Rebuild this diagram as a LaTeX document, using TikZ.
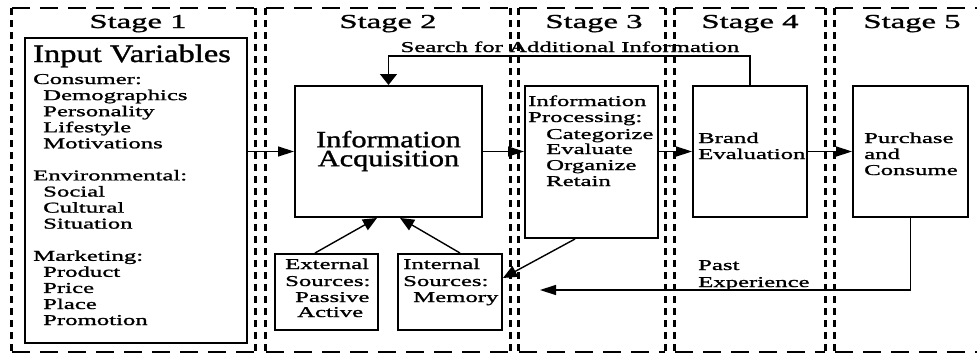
\documentclass[tikz,border=0pt]{standalone}
\usepackage{fontspec}
\setmainfont{Liberation Serif}
\newfontfamily\bodyf[FakeStretch=1.65,FakeBold=1.3]{Liberation Serif}
\newfontfamily\bigf[FakeStretch=1.3,FakeBold=1.3]{Liberation Serif}
\usetikzlibrary{arrows.meta}
\tikzset{
  box/.style={draw, line width=2pt, rectangle, inner sep=0pt},
  frame/.style={rectangle, draw=none, inner sep=0pt},
  hdash/.style={line width=2.2pt, dash pattern=on 18pt off 10pt},
  vdash/.style={line width=3pt, dash pattern=on 7pt off 5pt},
  conn/.style={line width=1.4pt},
  harr/.style={conn, -{Triangle[length=16pt,width=10pt]}},
  varr/.style={conn, -{Triangle[length=11pt,width=17pt]}},
  darr/.style={conn, -{Triangle[length=14pt,width=12pt]}},
  txt/.style={inner sep=0pt, anchor=base west, font=\bodyf\fontsize{15}{16}\selectfont},
  stagetxt/.style={inner sep=0pt, anchor=base, font=\bodyf\fontsize{19.8}{22}\selectfont},
}
\begin{document}
\begin{tikzpicture}[x=1pt,y=-1pt]
\useasboundingbox (0,0) rectangle (977,356);
\fill[white] (0,0) rectangle (977,356);

% stage frames
\node[frame, minimum width=243pt, minimum height=343pt] (s1) at (133.5,180) {};
\node[frame, minimum width=244pt, minimum height=343pt] (s2) at (388,180) {};
\node[frame, minimum width=146pt, minimum height=343pt] (s3) at (592,180) {};
\node[frame, minimum width=150pt, minimum height=343pt] (s4) at (750,180) {};
\node[frame, minimum width=160pt, minimum height=343pt] (s5) at (915,180) {};
\foreach \s in {s1,s2,s3,s4,s5}{
  \draw[hdash] (\s.north west) -- (\s.north east);
  \draw[hdash] (\s.south west) -- (\s.south east);
  \draw[vdash] (\s.north west) -- (\s.south west);
  \draw[vdash] (\s.north east) -- (\s.south east);
}
\node[stagetxt] (t1) at (138,28) {Stage 1};
\node[stagetxt] (t2) at (388,28) {Stage 2};
\node[stagetxt] (t3) at (594,28) {Stage 3};
\node[stagetxt] (t4) at (750,28) {Stage 4};
\node[stagetxt] (t5) at (912,28) {Stage 5};

% boxes
\node[box, line width=2.4pt, minimum width=222pt, minimum height=305pt] (inp) at (136,190.5) {};
\node[box, minimum width=187pt, minimum height=131pt] (acq) at (388.5,151.5) {};
\node[box, minimum width=103pt, minimum height=76pt] (ext) at (326.5,292) {};
\node[box, minimum width=104pt, minimum height=76pt] (intl) at (450,292) {};
\node[box, minimum width=133pt, minimum height=152pt] (proc) at (591.5,162) {};
\node[box, minimum width=114pt, minimum height=131pt] (brand) at (750,151.5) {};
\node[box, minimum width=115pt, minimum height=131pt] (purch) at (910.5,151.5) {};

% input variables text
\node[inner sep=0pt, anchor=base west, font=\bigf\fontsize{25}{28}\selectfont] (ivt) at (33,62) {Input Variables};
\foreach \t/\x/\y [count=\i] in {Consumer:/33/84, Demographics/43/100.1, Personality/43/116.2, Lifestyle/43/132.2, Motivations/43/148.3,
  Environmental:/33/180.4, Social/43/196.5, Cultural/43/212.6, Situation/43/228.6,
  Marketing:/33/260.8, Product/43/276.8, Price/43/292.9, Place/43/309, Promotion/43/325}
  \node[txt] (iv\i) at (\x,\y) {\t};

% information acquisition
\node[inner sep=0pt, anchor=center, align=center, font=\bigf\fontsize{23.3}{19}\selectfont] (acqt) at (388.5,151) {Information\\Acquisition};

% sources
\node[txt] (ex1) at (285,269) {External};
\node[txt] (ex2) at (285,286) {Sources:};
\node[txt] (ex3) at (295,302) {Passive};
\node[txt] (ex4) at (297,317) {Active};
\node[txt] (in1) at (403,269) {Internal};
\node[txt] (in2) at (403,286) {Sources:};
\node[txt] (in3) at (413,302) {Memory};

% information processing
\node[txt] (pr1) at (528,106) {Information};
\node[txt] (pr2) at (528,122) {Processing:};
\node[txt] (pr3) at (546,139) {Categorize};
\node[txt] (pr4) at (546,154) {Evaluate};
\node[txt] (pr5) at (546,170) {Organize};
\node[txt] (pr6) at (546,186) {Retain};

% brand evaluation
\node[txt] (br1) at (698,143) {Brand};
\node[txt] (br2) at (698,159) {Evaluation};

% purchase
\node[txt] (pu1) at (864,143) {Purchase};
\node[txt] (pu2) at (864,159) {and};
\node[txt] (pu3) at (864,175) {Consume};

% labels
\node[txt, anchor=base] (search) at (570,52) {Search for Additional Information};
\node[txt] (pe1) at (698,270) {Past};
\node[txt] (pe2) at (698,287) {Experience};

% connectors
\draw[harr] (inp.east |- acq.west) -- (acq.west);
\draw[harr] (acq.east) -- (proc.west |- acq.east);
\draw[harr] (proc.east |- brand.west) -- (brand.west);
\draw[harr] (brand.east) -- (purch.west);
\draw[varr] (brand.north) -- ++(0,-29) -| (acq.north);
\draw[darr] ([xshift=-11.5pt]ext.north) -- ([xshift=-11.5pt]acq.south);
\draw[darr] ([xshift=10pt]intl.north) -- ([xshift=11.5pt]acq.south);
\draw[darr] ([xshift=-16.5pt]proc.south) -- ([yshift=14pt]intl.east);
\coordinate (peEnd) at (540,290);
\draw[harr] (purch.south) |- (peEnd);
\end{tikzpicture}
\end{document}
